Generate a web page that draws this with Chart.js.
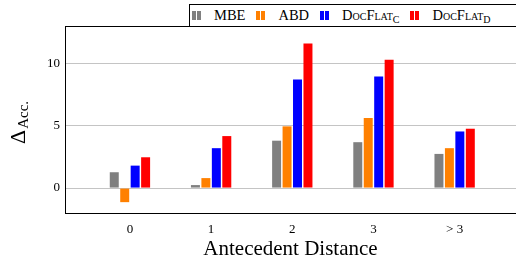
<!DOCTYPE html>
<html>
<head>
<meta charset="utf-8">
<script src="https://cdn.jsdelivr.net/npm/chart.js@4.4.1/dist/chart.umd.min.js"></script>
<style>
body { margin: 0; background: #fff; }
#wrap { position: relative; width: 516px; height: 262px; }
#legend {
    position: absolute; left: 189px; top: 4px; width: 330px; height: 23px;
    border: 1px solid #000; background: #fff; box-sizing: border-box;
    font-family: "Liberation Serif", serif; font-size: 14.5px; color: #000;
    display: flex; align-items: center; white-space: nowrap; padding-left: 2px;
}
.item { display: flex; align-items: center; margin-right: 11px; }
.sw { display: inline-block; width: 4px; height: 9px; margin-right: 1px; }
.sw.last { margin-right: 13px; }
.sc { font-variant: small-caps; }
sub { font-size: 10px; vertical-align: -3px; font-variant: normal; }
</style>
</head>
<body>
<div id="wrap">
    <canvas id="myChart" width="516" height="262"></canvas>
    <div id="legend"></div>
</div>
<script>
"use strict";

const categories = ["0", "1", "2", "3", "> 3"];
const mbe = [1.27, 0.24, 3.8, 3.68, 2.74];
const abd = [-1.13, 0.8, 4.95, 5.62, 3.2];
const docFlatC = [1.8, 3.2, 8.7, 8.95, 4.54];
const docFlatD = [2.47, 4.17, 11.6, 10.3, 4.76];
const yTicks = [0, 5, 10];

const series = [
    { name: "MBE", html: "MBE", color: "#808080", values: mbe },
    { name: "ABD", html: "ABD", color: "#ff8000", values: abd },
    { name: "DocFlatC", html: '<span class="sc">DocFlat<sub>C</sub></span>', color: "#0000ff", values: docFlatC },
    { name: "DocFlatD", html: '<span class="sc">DocFlat<sub>D</sub></span>', color: "#ff0000", values: docFlatD }
];

const serif = "'Liberation Serif', 'Times New Roman', serif";

// legend as html so the small caps and subscripts stay real text
const legend = document.getElementById("legend");
series.forEach(function (s) {
    const item = document.createElement("span");
    item.className = "item";
    item.innerHTML = '<span class="sw" style="background:' + s.color + '"></span>' +
        '<span class="sw last" style="background:' + s.color + '"></span>' + s.html;
    legend.appendChild(item);
});

const framePlugin = {
    id: "frame",
    afterDraw: function (chart) {
        const ctx = chart.ctx;
        const a = chart.chartArea;
        ctx.save();
        ctx.strokeStyle = "#000";
        ctx.lineWidth = 1;
        ctx.strokeRect(a.left + 0.5, a.top + 0.5, a.right - a.left + 2, a.bottom - a.top);

        // y title: big delta with "Acc." subscript, rotated
        ctx.translate(25, 144);
        ctx.rotate(-Math.PI / 2);
        ctx.fillStyle = "#000";
        ctx.textBaseline = "alphabetic";
        ctx.font = "22px " + serif;
        ctx.fillText("\u0394", 0, 0);
        const w = ctx.measureText("\u0394").width;
        ctx.font = "15px " + serif;
        ctx.fillText("Acc.", w + 1, 3);
        ctx.restore();
    }
};

const ctx = document.getElementById("myChart");
const chart = new Chart(ctx, {
    type: "bar",
    data: {
        datasets: series.map(function (s) {
            return {
                label: s.name,
                data: s.values.map(function (v, i) { return { x: i, y: v }; }),
                backgroundColor: s.color,
                borderWidth: 0,
                categoryPercentage: 0.515,
                barPercentage: 0.86
            };
        })
    },
    options: {
        responsive: false,
        animation: false,
        layout: { padding: { top: 26, right: 0, left: 0, bottom: 0 } },
        plugins: {
            legend: { display: false },
            tooltip: { enabled: false }
        },
        scales: {
            x: {
                type: "linear",
                offset: false,
                min: -0.8,
                max: 4.756,
                afterBuildTicks: function (s) {
                    s.ticks = categories.map(function (c, i) { return { value: i }; });
                },
                afterFit: function (s) { s.height = 49; },
                grid: { display: false, offset: false },
                border: { display: false },
                ticks: {
                    callback: function (v) { return categories[v]; },
                    font: { family: serif, size: 13 },
                    color: "#000",
                    padding: 1,
                    maxRotation: 0
                },
                title: {
                    display: true,
                    text: "Antecedent Distance",
                    font: { family: serif, size: 21 },
                    color: "#000",
                    padding: { top: 3, bottom: 0 }
                }
            },
            y: {
                min: -2,
                max: 13,
                afterBuildTicks: function (s) {
                    s.ticks = yTicks.map(function (v) { return { value: v }; });
                },
                afterFit: function (s) { s.width = 65; },
                grid: { color: "#c4c4c4", drawTicks: false, lineWidth: 1 },
                border: { display: false },
                ticks: {
                    font: { family: serif, size: 13 },
                    color: "#000",
                    padding: 5
                }
            }
        }
    },
    plugins: [framePlugin]
});
</script>
</body>
</html>
